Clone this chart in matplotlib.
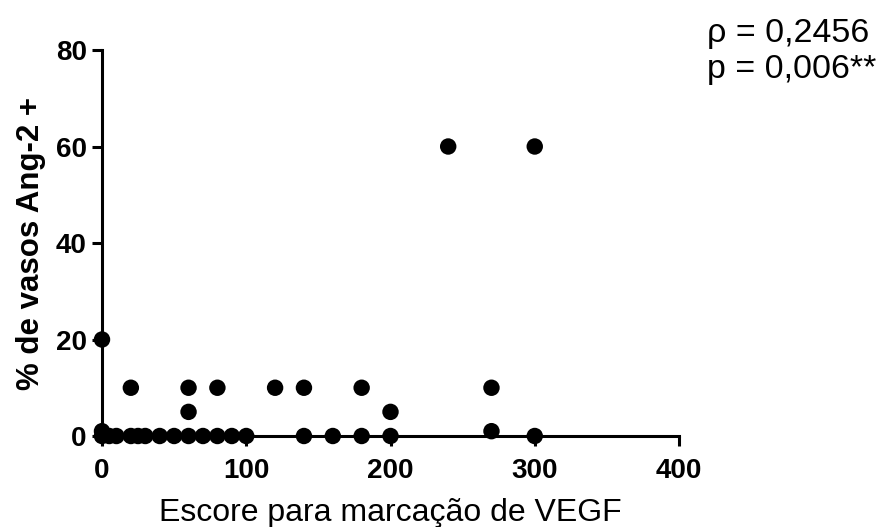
import matplotlib
matplotlib.use("Agg")
import matplotlib.pyplot as plt

# VEGF staining score vs. % of Ang-2 positive vessels
vegf_score = [0, 0, 5, 10, 20, 25, 30, 40, 50, 60, 70, 80, 90, 100,
              140, 160, 180, 200, 300,
              20, 60, 80, 120, 140, 180, 270,
              60, 200, 270, 0, 240, 300]
ang2_pct = [1, 0, 0, 0, 0, 0, 0, 0, 0, 0, 0, 0, 0, 0,
            0, 0, 0, 0, 0,
            10, 10, 10, 10, 10, 10, 10,
            5, 5, 1, 20, 60, 60]

x_ticks = [0, 100, 200, 300, 400]
y_ticks = [0, 20, 40, 60, 80]
rho_text = "\u03c1 = 0,2456"
p_text = "p = 0,006**"

plt.rcParams['font.family'] = ['Liberation Sans', 'DejaVu Sans']

fig = plt.figure(figsize=(8.93, 5.27), dpi=100)
ax = fig.add_axes([102 / 893, (527 - 436) / 527, 577 / 893, 386 / 527])

ax.scatter(vegf_score, ang2_pct, s=140, color='black', edgecolors='none',
           clip_on=False, zorder=3)

ax.set_xlim(0, 400)
ax.set_ylim(0, 80)
ax.set_xticks(x_ticks)
ax.set_yticks(y_ticks)
ax.set_xticklabels([str(t) for t in x_ticks], fontsize=20, fontweight='bold')
ax.set_yticklabels([str(t) for t in y_ticks], fontsize=20, fontweight='bold')
ax.tick_params(direction='out', length=7, width=2.2)
ax.tick_params(axis='x', pad=9)
ax.tick_params(axis='y', pad=4)

for side in ('top', 'right'):
    ax.spines[side].set_visible(False)
for side in ('left', 'bottom'):
    ax.spines[side].set_linewidth(2.2)

ax.set_xlabel("Escore para marcação de VEGF", fontsize=23, labelpad=10)
ax.set_ylabel("% de vasos Ang-2 +", fontsize=22.5, fontweight='bold', labelpad=7)

fig.text(707 / 893, 1 - 42 / 527, rho_text, fontsize=24.5, ha='left', va='baseline')
fig.text(707 / 893, 1 - 78 / 527, p_text, fontsize=24.5, ha='left', va='baseline')

fig.savefig("out.png", dpi=100)
